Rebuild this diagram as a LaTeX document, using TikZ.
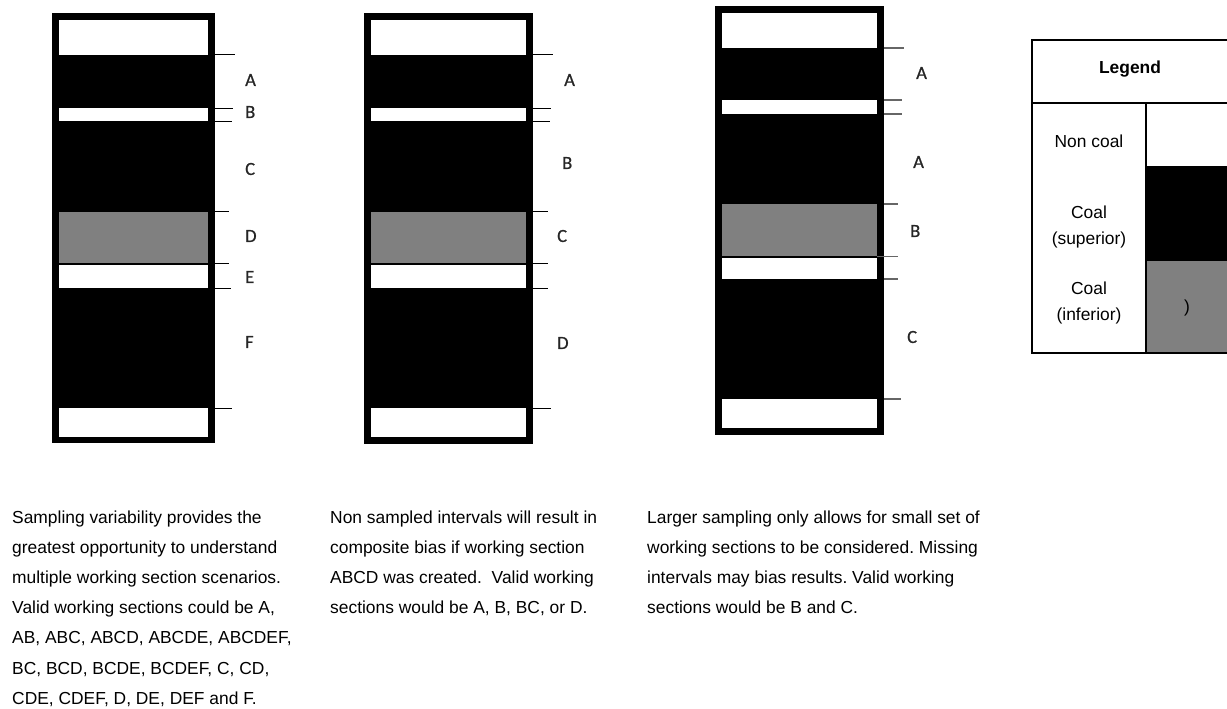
\documentclass[tikz,border=0pt]{standalone}
\usepackage{fontspec}
\setmainfont{Liberation Sans}
\newfontfamily\labelfont[FakeBold=0.8]{Carlito}
\definecolor{coalgray}{RGB}{128,128,128}
\frenchspacing
\tikzset{
  whiteband/.style={fill=white},
  grayband/.style={fill=coalgray},
  ticklines/.style={line width=1pt,draw=black},
  softticks/.style={line width=1.2pt,draw=black!60},
  seclabel/.style={font=\labelfont\fontsize{18.5}{20}\selectfont,text=black!85,anchor=west,inner sep=0pt},
  bodyline/.style={font=\fontsize{17.4}{30}\selectfont,anchor=base west,inner sep=0pt},
  legtext/.style={font=\fontsize{17.4}{26}\selectfont,align=center,inner sep=0pt},
  legline/.style={line width=1.3pt,draw=black}
}
\begin{document}
\begin{tikzpicture}[x=1pt,y=-1pt]
\useasboundingbox (0,0) rectangle (1227,709);

% ---------- column 1 ----------
\fill (52,13) rectangle (215,443);
\fill[whiteband] (58.5,20) rectangle (208,55);
\fill[whiteband] (58.5,108) rectangle (208,121);
\fill[grayband] (58.5,212) rectangle (208,263);
\fill[whiteband] (58.5,264.5) rectangle (208,288);
\fill[whiteband] (58.5,408) rectangle (208,437);
\draw[ticklines] (215,55) -- (235,55);
\draw[ticklines] (215,108) -- (233,108);
\draw[ticklines] (215,121) -- (232,121);
\draw[ticklines] (215,211.5) -- (229,211.5);
\draw[ticklines] (208,263.5) -- (229,263.5);
\draw[ticklines] (215,288) -- (231,288);
\draw[ticklines] (215,408) -- (232,408);
\node[seclabel] (c1A) at (245,80) {A};
\node[seclabel] (c1B) at (245,112) {B};
\node[seclabel] (c1C) at (245,169) {C};
\node[seclabel] (c1D) at (245,236) {D};
\node[seclabel] (c1E) at (245,277) {E};
\node[seclabel] (c1F) at (245,342) {F};

% ---------- column 2 ----------
\fill (364,13) rectangle (533,444);
\fill[whiteband] (371,20) rectangle (526,55);
\fill[whiteband] (371,108) rectangle (526,121);
\fill[grayband] (371,212) rectangle (526,263);
\fill[whiteband] (371,264.5) rectangle (526,288);
\fill[whiteband] (371,408) rectangle (526,437);
\draw[ticklines] (533,55) -- (553,55);
\draw[ticklines] (533,108) -- (551,108);
\draw[ticklines] (533,121) -- (550,121);
\draw[ticklines] (533,211.5) -- (548,211.5);
\draw[ticklines] (526,263.5) -- (548,263.5);
\draw[ticklines] (533,288) -- (548,288);
\draw[ticklines] (533,408) -- (551,408);
\node[seclabel] (c2A) at (564,80) {A};
\node[seclabel] (c2B) at (562,163) {B};
\node[seclabel] (c2C) at (557,236) {C};
\node[seclabel] (c2D) at (557,343) {D};

% ---------- column 3 ----------
\fill (715,6) rectangle (884,435);
\fill[whiteband] (722,13) rectangle (877,48);
\fill[whiteband] (722,100) rectangle (877,114);
\fill[grayband] (722,204) rectangle (877,256);
\fill[whiteband] (722,257.5) rectangle (877,279);
\fill[whiteband] (722,399) rectangle (877,428);
\draw[softticks] (884,48) -- (904,48);
\draw[softticks] (884,100) -- (902,100);
\draw[softticks] (884,114) -- (902,114);
\draw[softticks] (884,204) -- (898,204);
\draw[softticks] (877,256.5) -- (898,256.5);
\draw[softticks] (884,279) -- (898,279);
\draw[softticks] (884,399) -- (901,399);
\node[seclabel] (c3A) at (916,73) {A};
\node[seclabel] (c3A2) at (913,162) {A};
\node[seclabel] (c3B) at (910,231) {B};
\node[seclabel] (c3C) at (907,337) {C};

% ---------- legend ----------
\fill (1146,166) rectangle (1228,261);
\fill[coalgray] (1146,261) rectangle (1228,353);
\draw[legline] (1032,40) rectangle (1228,353);
\draw[legline] (1032,103) -- (1228,103);
\draw[legline] (1146,103) -- (1146,353);
\node[legtext,font=\bfseries\fontsize{17.4}{26}\selectfont] (legtitle) at (1130,69) {Legend};
\node[legtext] (lnon) at (1089,141) {Non coal};
\node[legtext] (lsup) at (1089,227) {Coal\\(superior)};
\node[legtext] (linf) at (1089,303) {Coal\\(inferior)};
\node[legtext] (lparen) at (1187,308) {)};

% ---------- texts ----------
\node[bodyline] (t1a) at (12,523) {Sampling variability provides the};
\node[bodyline] (t1b) at (12,553.2) {greatest opportunity to understand};
\node[bodyline] (t1c) at (12,583.4) {multiple working section scenarios.};
\node[bodyline] (t1d) at (12,613.6) {Valid working sections could be A,};
\node[bodyline] (t1e) at (12,643.8) {AB, ABC, ABCD, ABCDE, ABCDEF,};
\node[bodyline] (t1f) at (12,674) {BC, BCD, BCDE, BCDEF, C, CD,};
\node[bodyline] (t1g) at (12,704.2) {CDE, CDEF, D, DE, DEF and F.};

\node[bodyline] (t2a) at (330,523) {Non sampled intervals will result in};
\node[bodyline] (t2b) at (330,553.2) {composite bias if working section};
\node[bodyline] (t2c) at (330,583.4) {ABCD was created.\ \ Valid working};
\node[bodyline] (t2d) at (330,613.6) {sections would be A, B, BC, or D.};

\node[bodyline] (t3a) at (647,523) {Larger sampling only allows for small set of};
\node[bodyline] (t3b) at (647,553.2) {working sections to be considered. Missing};
\node[bodyline] (t3c) at (647,583.4) {intervals may bias results. Valid working};
\node[bodyline] (t3d) at (647,613.6) {sections would be B and C.};
\end{tikzpicture}
\end{document}
